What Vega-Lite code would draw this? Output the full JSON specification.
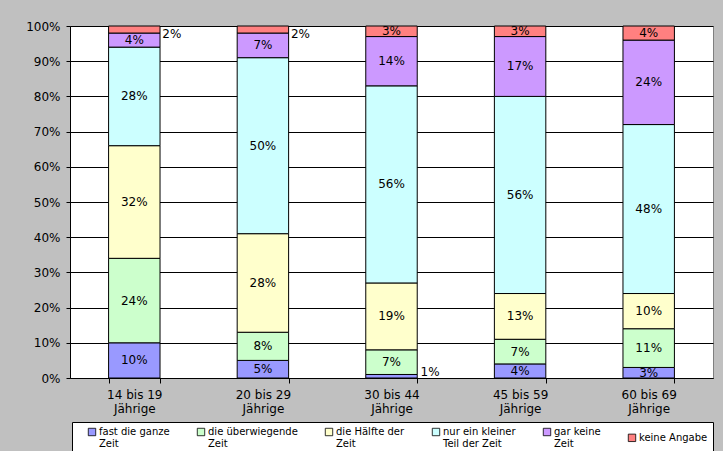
{
  "$schema": "https://vega.github.io/schema/vega-lite/v6.json",
  "width": 643,
  "height": 352,
  "autosize": {"type": "none"},
  "padding": {"left": 70, "top": 26, "right": 10, "bottom": 73},
  "background": "#C0C0C0",
  "config": {
    "view": {"fill": "white", "stroke": "#808080"},
    "font": "DejaVu Sans",
    "text": {"font": "DejaVu Sans"},
    "axisY": {
      "title": null,
      "labelOverlap": false,
      "labelFontSize": 12,
      "labelColor": "black",
      "labelPadding": 6,
      "domainColor": "black",
      "tickColor": "black",
      "tickSize": 4,
      "grid": true,
      "gridColor": "black",
      "gridOpacity": 1
    }
  },
  "data": {
    "values": [
      {"gruppe": "14 bis 19 Jährige", "antwort": "fast die ganze Zeit", "rang": 1, "anteil": 0.10},
      {"gruppe": "14 bis 19 Jährige", "antwort": "die überwiegende Zeit", "rang": 2, "anteil": 0.24},
      {"gruppe": "14 bis 19 Jährige", "antwort": "die Hälfte der Zeit", "rang": 3, "anteil": 0.32},
      {"gruppe": "14 bis 19 Jährige", "antwort": "nur ein kleiner Teil der Zeit", "rang": 4, "anteil": 0.28},
      {"gruppe": "14 bis 19 Jährige", "antwort": "gar keine Zeit", "rang": 5, "anteil": 0.04},
      {"gruppe": "14 bis 19 Jährige", "antwort": "keine Angabe", "rang": 6, "anteil": 0.02},
      {"gruppe": "20 bis 29 Jährige", "antwort": "fast die ganze Zeit", "rang": 1, "anteil": 0.05},
      {"gruppe": "20 bis 29 Jährige", "antwort": "die überwiegende Zeit", "rang": 2, "anteil": 0.08},
      {"gruppe": "20 bis 29 Jährige", "antwort": "die Hälfte der Zeit", "rang": 3, "anteil": 0.28},
      {"gruppe": "20 bis 29 Jährige", "antwort": "nur ein kleiner Teil der Zeit", "rang": 4, "anteil": 0.50},
      {"gruppe": "20 bis 29 Jährige", "antwort": "gar keine Zeit", "rang": 5, "anteil": 0.07},
      {"gruppe": "20 bis 29 Jährige", "antwort": "keine Angabe", "rang": 6, "anteil": 0.02},
      {"gruppe": "30 bis 44 Jährige", "antwort": "fast die ganze Zeit", "rang": 1, "anteil": 0.01},
      {"gruppe": "30 bis 44 Jährige", "antwort": "die überwiegende Zeit", "rang": 2, "anteil": 0.07},
      {"gruppe": "30 bis 44 Jährige", "antwort": "die Hälfte der Zeit", "rang": 3, "anteil": 0.19},
      {"gruppe": "30 bis 44 Jährige", "antwort": "nur ein kleiner Teil der Zeit", "rang": 4, "anteil": 0.56},
      {"gruppe": "30 bis 44 Jährige", "antwort": "gar keine Zeit", "rang": 5, "anteil": 0.14},
      {"gruppe": "30 bis 44 Jährige", "antwort": "keine Angabe", "rang": 6, "anteil": 0.03},
      {"gruppe": "45 bis 59 Jährige", "antwort": "fast die ganze Zeit", "rang": 1, "anteil": 0.04},
      {"gruppe": "45 bis 59 Jährige", "antwort": "die überwiegende Zeit", "rang": 2, "anteil": 0.07},
      {"gruppe": "45 bis 59 Jährige", "antwort": "die Hälfte der Zeit", "rang": 3, "anteil": 0.13},
      {"gruppe": "45 bis 59 Jährige", "antwort": "nur ein kleiner Teil der Zeit", "rang": 4, "anteil": 0.56},
      {"gruppe": "45 bis 59 Jährige", "antwort": "gar keine Zeit", "rang": 5, "anteil": 0.17},
      {"gruppe": "45 bis 59 Jährige", "antwort": "keine Angabe", "rang": 6, "anteil": 0.03},
      {"gruppe": "60 bis 69 Jährige", "antwort": "fast die ganze Zeit", "rang": 1, "anteil": 0.03},
      {"gruppe": "60 bis 69 Jährige", "antwort": "die überwiegende Zeit", "rang": 2, "anteil": 0.11},
      {"gruppe": "60 bis 69 Jährige", "antwort": "die Hälfte der Zeit", "rang": 3, "anteil": 0.10},
      {"gruppe": "60 bis 69 Jährige", "antwort": "nur ein kleiner Teil der Zeit", "rang": 4, "anteil": 0.48},
      {"gruppe": "60 bis 69 Jährige", "antwort": "gar keine Zeit", "rang": 5, "anteil": 0.24},
      {"gruppe": "60 bis 69 Jährige", "antwort": "keine Angabe", "rang": 6, "anteil": 0.04}
    ]
  },
  "encoding": {
    "x": {
      "field": "gruppe",
      "type": "nominal",
      "sort": null,
      "scale": {"paddingInner": 0.6, "paddingOuter": 0.3},
      "axis": {
        "title": null,
        "labelAngle": 0,
        "labelExpr": "[slice(datum.label, 0, 9), slice(datum.label, 10)]",
        "labelFontSize": 12,
        "labelColor": "black",
        "labelLineHeight": 14.5,
        "labelBaseline": "top",
        "labelPadding": 6,
        "domainColor": "black",
        "tickColor": "black",
        "tickSize": 5,
        "tickBand": "extent",
        "grid": false
      }
    },
    "order": {"field": "rang", "type": "quantitative"}
  },
  "layer": [
    {
      "mark": {"type": "bar", "stroke": "black", "strokeWidth": 1},
      "encoding": {
        "y": {
          "field": "anteil",
          "type": "quantitative",
          "stack": "zero",
          "scale": {"domain": [0, 1], "nice": false},
          "axis": {"values": [0, 0.1, 0.2, 0.3, 0.4, 0.5, 0.6, 0.7, 0.8, 0.9, 1], "format": ".0%"}
        },
        "color": {
          "field": "antwort",
          "type": "nominal",
          "scale": {
            "domain": ["fast die ganze Zeit", "die überwiegende Zeit", "die Hälfte der Zeit", "nur ein kleiner Teil der Zeit", "gar keine Zeit", "keine Angabe"],
            "range": ["#9999FF", "#CCFFCC", "#FFFFCC", "#CCFFFF", "#CC99FF", "#FF8080"]
          },
          "legend": {
            "orient": "none",
            "legendX": 2,
            "legendY": 396,
            "direction": "horizontal",
            "columns": 6,
            "title": null,
            "fillColor": "white",
            "strokeColor": "black",
            "padding": 5,
            "symbolType": "square",
            "symbolSize": 55,
            "symbolStrokeColor": "black",
            "symbolStrokeWidth": 0.8,
            "symbolOffset": 10,
            "labelFontSize": 10,
            "labelColor": "black",
            "labelOffset": 2,
            "labelLimit": 200,
            "columnPadding": 16,
            "labelExpr": "datum.label == 'keine Angabe' ? datum.label : indexof(datum.label, 'Teil der') >= 0 ? [replace(datum.label, ' Teil der Zeit', ''), 'Teil der Zeit'] : [replace(datum.label, ' Zeit', ''), 'Zeit']"
          }
        }
      }
    },
    {
      "mark": {"type": "text", "fontSize": 12, "baseline": "middle", "color": "black"},
      "encoding": {
        "y": {"field": "anteil", "type": "quantitative", "stack": "zero", "bandPosition": 0.5,
              "axis": {"values": [0, 0.1, 0.2, 0.3, 0.4, 0.5, 0.6, 0.7, 0.8, 0.9, 1], "format": ".0%"}},
        "text": {"field": "anteil", "type": "quantitative", "format": ".0%"},
        "opacity": {"condition": {"test": "datum.anteil <= 0.02", "value": 0}, "value": 1}
      }
    },
    {
      "mark": {"type": "text", "fontSize": 12, "baseline": "middle", "align": "left", "dx": 28, "dy": 4, "color": "black"},
      "encoding": {
        "y": {"field": "anteil", "type": "quantitative", "stack": "zero", "bandPosition": 0.5,
              "axis": {"values": [0, 0.1, 0.2, 0.3, 0.4, 0.5, 0.6, 0.7, 0.8, 0.9, 1], "format": ".0%"}},
        "text": {"field": "anteil", "type": "quantitative", "format": ".0%"},
        "opacity": {"condition": {"test": "datum.anteil <= 0.02 && datum.rang == 6", "value": 1}, "value": 0}
      }
    },
    {
      "mark": {"type": "text", "fontSize": 12, "baseline": "middle", "align": "left", "dx": 29, "dy": -4, "color": "black"},
      "encoding": {
        "y": {"field": "anteil", "type": "quantitative", "stack": "zero", "bandPosition": 0.5,
              "axis": {"values": [0, 0.1, 0.2, 0.3, 0.4, 0.5, 0.6, 0.7, 0.8, 0.9, 1], "format": ".0%"}},
        "text": {"field": "anteil", "type": "quantitative", "format": ".0%"},
        "opacity": {"condition": {"test": "datum.anteil <= 0.02 && datum.rang == 1", "value": 1}, "value": 0}
      }
    }
  ]
}
